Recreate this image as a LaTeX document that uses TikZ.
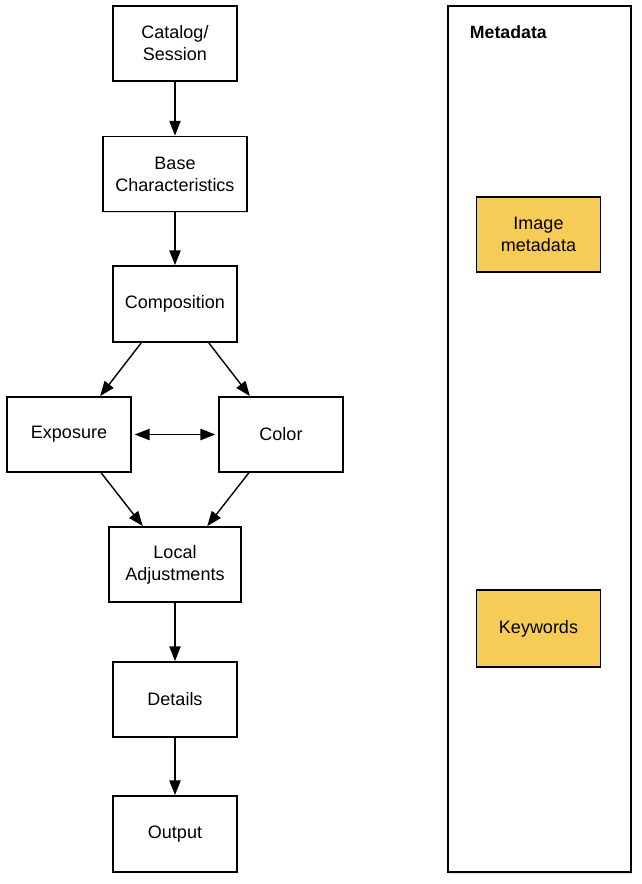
\documentclass[tikz,border=0pt]{standalone}
\usepackage{fontspec}
\setmainfont{Liberation Sans}
\usetikzlibrary{arrows.meta,shadows}
\definecolor{metayellow}{RGB}{247,204,86}
\begin{document}
\begin{tikzpicture}[
  x=0.025cm, y=-0.025cm,
  every node/.style={font=\fontsize{12.8}{15.6}\selectfont},
  box/.style={draw, line width=1.3pt, align=center, minimum width=3.1cm, minimum height=1.875cm, fill=white,
    drop shadow={opacity=0.25, shadow xshift=0.6pt, shadow yshift=-1pt}},
  metabox/.style={box, fill=metayellow},
  arr/.style={-{Triangle[length=10.5pt, width=8pt]}, line width=1pt}
]
  \useasboundingbox (0,0) rectangle (641,884);

  % metadata column
  \node[draw, line width=1.3pt, minimum width=4.575cm, minimum height=21.65cm, fill=white,
    drop shadow={opacity=0.25, shadow xshift=0.6pt, shadow yshift=-1pt}] (meta) at (539.5,439) {};
  \node[anchor=west, font=\fontsize{12.6}{15}\selectfont\bfseries] (metatitle) at (465,32) {Metadata};
  \node[metabox] (imgmeta) at (538.5,234.5) {Image\\metadata};
  \node[metabox, minimum height=1.925cm] (keywords) at (538.5,628.5) {Keywords};

  % workflow
  \node[box] (catalog) at (175,43.5) {Catalog/\\Session};
  \node[box, minimum width=3.6cm] (base) at (175,174) {Base\\Characteristics};
  \node[box, minimum height=1.9cm] (comp) at (175,304) {Composition};
  \node[box] (exposure) at (69,434.5) {Exposure};
  \node[box] (color) at (281,434.5) {Color};
  \node[box, minimum width=3.3cm] (local) at (175,564.5) {Local\\Adjustments};
  \node[box] (details) at (175,699.5) {Details};
  \node[box, minimum height=1.9cm] (output) at (175,834) {Output};

  \draw[arr] (catalog) -- (base);
  \draw[arr] (base) -- (comp);
  \draw[arr] (comp.229) -- (exposure.51);
  \draw[arr] (comp.311) -- (color.129);
  \draw[{Triangle[length=10.5pt, width=8pt]}-{Triangle[length=10.5pt, width=8pt]}, line width=1pt]
    ([xshift=2pt]exposure.east) -- ([xshift=-2pt]color.west);
  \draw[arr] (exposure.310) -- (local.130);
  \draw[arr] (color.230) -- (local.50);
  \draw[arr] (local) -- (details);
  \draw[arr] (details) -- (output);
\end{tikzpicture}
\end{document}
